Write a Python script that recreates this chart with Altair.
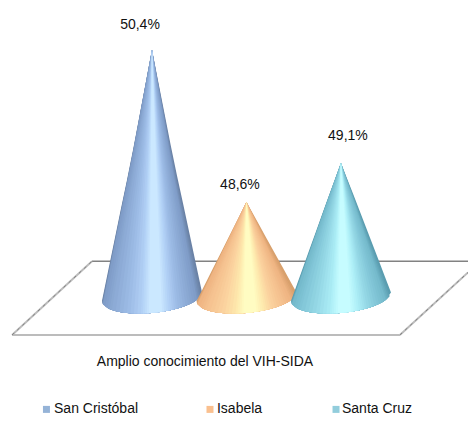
import altair as alt
import pandas as pd

categories = ["San Cristóbal", "Isabela", "Santa Cruz"]
values = [50.4, 48.6, 49.1]
value_labels = ["50,4%", "48,6%", "49,1%"]
axis_label = "Amplio conocimiento del VIH-SIDA"

# Positions in data units (x: category index, y: percent on the chart's scale)
slots = [1, 2, 3]
label_x = [0.873, 1.931, 3.074]
label_y = [50.69, 48.82, 49.41]
base_half = 0.53
base_left = 47.36
base_right = 47.47
base_depth = 0.2

front_x = [-0.481, 3.624]
front_y = [46.94, 46.94]
back_x = [0.365, 4.345]
back_y = [47.86, 47.86]
left_x = [-0.481, 0.365]
left_y = [46.94, 47.86]
right_x = [3.624, 4.345]
right_y = [46.94, 47.72]

axis_label_x = 1.561
axis_label_y = 46.6
legend_y = 46.01
legend_square_x = [-0.117, 1.614, 2.948]
legend_text_x = [-0.037, 1.688, 3.011]

band_keys = [(-1.0, 1.0), (-0.98, 0.9), (-0.8, 0.72), (-0.5, 0.52), (-0.22, 0.36), (-0.06, 0.2)]
band_colors = [
    ["#6a82a6", "#809dc8", "#8dabd6", "#9dbce6", "#b2d1f6", "#cbe8ff"],
    ["#d8a06c", "#efb583", "#f6c391", "#fbd39f", "#feeaae", "#fffcc2"],
    ["#5a9db0", "#75bacc", "#84c8d9", "#98dbe8", "#aeeff7", "#c6fcff"],
]
legend_colors = ["#95b3d7", "#fac08f", "#92cddc"]
SUBSTEPS = 4

GREY_LIGHT = "#bcbcbc"
GREY_DARK = "#828282"
FONT = "Liberation Sans"

x_scale = alt.Scale(domain=[-0.524, 4.345], range=[0, 460], nice=False, zero=False)
y_scale = alt.Scale(domain=[45.94, 48.6, 49.1, 50.88], range=[407, 194, 155, 0], nice=False, zero=False)
X = lambda f="x": alt.X(f"{f}:Q", scale=x_scale, axis=None)
Y = lambda f="y": alt.Y(f"{f}:Q", scale=y_scale, axis=None)


def mix(a, b, t):
    ca = [int(a[i:i + 2], 16) for i in (1, 3, 5)]
    cb = [int(b[i:i + 2], 16) for i in (1, 3, 5)]
    return "#" + "".join(f"{round(p + (q - p) * t):02x}" for p, q in zip(ca, cb))


def shade_steps(cols):
    out = []
    for i in range(len(band_keys) - 1):
        for s in range(SUBSTEPS):
            t = s / SUBSTEPS
            lo = band_keys[i][0] + (band_keys[i + 1][0] - band_keys[i][0]) * t
            hi = band_keys[i][1] + (band_keys[i + 1][1] - band_keys[i][1]) * t
            out.append((lo, hi, mix(cols[i], cols[i + 1], t)))
    out.append((*band_keys[-1], cols[-1]))
    return out


def bottom(f):
    side = base_left + (base_right - base_left) * (f + 1) / 2
    return side - base_depth * max(0.0, 1 - f * f) ** 0.5


def band_frame(slot, tip, lo, hi):
    rows = []
    steps = 8
    for side_end in (lo, hi):
        edge_y = bottom(side_end)
        for i in range(steps + 1):
            t = i / steps
            f = side_end * t
            rows.append({
                "x": slot + f * base_half,
                "y": tip + (edge_y - tip) * t,
                "y2": bottom(f),
            })
    return pd.DataFrame(rows).drop_duplicates("x").sort_values("x")


def seg(xs, ys, color, width, dash=None):
    kw = {"color": color, "strokeWidth": width, "clip": False}
    if dash:
        kw["strokeDash"] = dash
    return alt.Chart(pd.DataFrame({"x": xs, "y": ys})).mark_line(**kw).encode(x=X(), y=Y())


layers = [
    seg(back_x, back_y, GREY_DARK, 1.5),
    seg(front_x, front_y, GREY_LIGHT, 2),
    seg(left_x, left_y, GREY_LIGHT, 2),
    seg(left_x, left_y, GREY_DARK, 1, [3, 4]),
    seg(right_x, right_y, GREY_LIGHT, 2),
    seg(right_x, right_y, GREY_DARK, 1, [3, 4]),
]

for slot, tip, cols in zip(slots, values, band_colors):
    for lo, hi, c in shade_steps(cols):
        layers.append(
            alt.Chart(band_frame(slot, tip, lo, hi))
            .mark_area(color=c, opacity=1)
            .encode(x=X(), y=Y(), y2=alt.Y2("y2:Q"))
        )

text_df = pd.DataFrame({"x": label_x, "y": label_y, "t": value_labels})
layers.append(
    alt.Chart(text_df).mark_text(font=FONT, fontSize=14, color="#111111", align="center", baseline="middle")
    .encode(x=X(), y=Y(), text="t:N")
)
layers.append(
    alt.Chart(pd.DataFrame({"x": [axis_label_x], "y": [axis_label_y], "t": [axis_label]}))
    .mark_text(font=FONT, fontSize=14, color="#111111", align="center", baseline="middle")
    .encode(x=X(), y=Y(), text="t:N")
)
legend_df = pd.DataFrame({
    "sx": legend_square_x, "tx": legend_text_x, "y": [legend_y] * 3,
    "t": categories, "c": legend_colors,
})
layers.append(
    alt.Chart(legend_df).mark_square(size=49, opacity=1)
    .encode(x=X("sx"), y=Y(), color=alt.Color("c:N", scale=None))
)
layers.append(
    alt.Chart(legend_df).mark_text(font=FONT, fontSize=14, color="#111111", align="left", baseline="middle")
    .encode(x=X("tx"), y=Y(), text="t:N")
)

chart = (
    alt.layer(*layers)
    .properties(width=460, height=407, padding=0,
                autosize=alt.AutoSizeParams(type="none"),
                view=alt.ViewBackground(stroke="transparent", strokeWidth=0))
    .configure_view(strokeWidth=0, stroke="transparent")
    .configure(background="white")
)
chart.save("out.html", embed_options={"renderer": "svg", "actions": False})
